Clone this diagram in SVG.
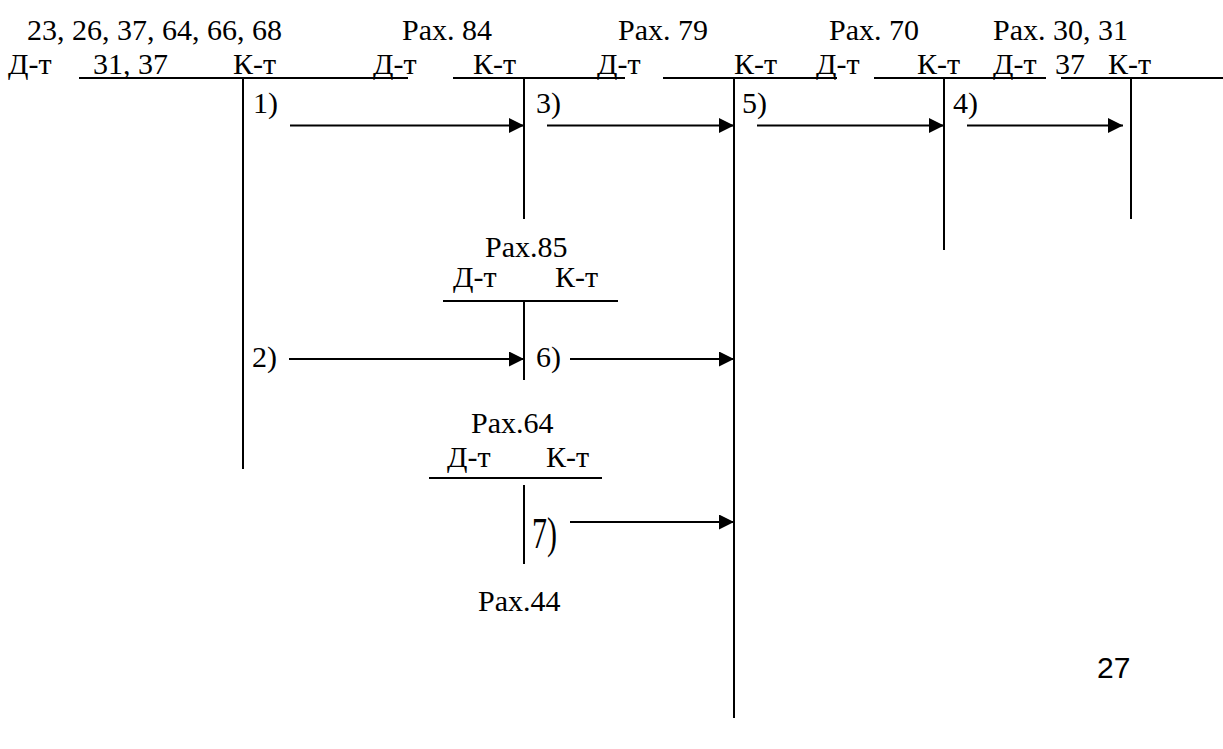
<svg xmlns="http://www.w3.org/2000/svg" width="1223" height="749" viewBox="0 0 1223 749">
<style>
text{font-family:"Liberation Serif","Times New Roman",serif;font-size:30px;fill:#000}
.s{font-family:"Liberation Sans",Arial,sans-serif}
line{stroke:#000;stroke-width:2}
</style>
<defs>
<marker id="ah" markerWidth="15" markerHeight="15" refX="15" refY="7.5" orient="auto" markerUnits="userSpaceOnUse">
<path d="M0,0 L15,7.5 L0,15 Z" fill="#000"/>
</marker>
</defs>
<rect width="1223" height="749" fill="#fff"/>
<g id="acc1">
<text x="27" y="40">23, 26, 37, 64, 66, 68</text>
<text x="8" y="74">Д-т</text>
<text x="93" y="74">31, 37</text>
<text x="233" y="74">К-т</text>
<line x1="79" y1="78" x2="408" y2="78"/>
<line x1="243" y1="78" x2="243" y2="469"/>
</g>
<g id="acc84">
<text x="402" y="40">Рах. 84</text>
<text x="373" y="74">Д-т</text>
<text x="473" y="74">К-т</text>
<line x1="453" y1="78" x2="625" y2="78"/>
<line x1="524" y1="78" x2="524" y2="219"/>
</g>
<g id="acc79">
<text x="618" y="40">Рах. 79</text>
<text x="597" y="74">Д-т</text>
<text x="734" y="74">К-т</text>
<line x1="663" y1="78" x2="837" y2="78"/>
<line x1="734" y1="78" x2="734" y2="718"/>
</g>
<g id="acc70">
<text x="829" y="40">Рах. 70</text>
<text x="816" y="74">Д-т</text>
<text x="917" y="74">К-т</text>
<line x1="874" y1="78" x2="1046" y2="78"/>
<line x1="944" y1="78" x2="944" y2="250"/>
</g>
<g id="acc30">
<text x="993" y="40">Рах. 30, 31</text>
<text x="993" y="74">Д-т</text>
<text x="1055" y="74">37</text>
<text x="1108" y="74">К-т</text>
<line x1="1061" y1="78" x2="1223" y2="78"/>
<line x1="1131" y1="78" x2="1131" y2="219"/>
</g>
<g id="acc85">
<text x="485" y="257">Рах.85</text>
<text x="453" y="287">Д-т</text>
<text x="555" y="287">К-т</text>
<line x1="443" y1="301" x2="618" y2="301"/>
<line x1="524" y1="301" x2="524" y2="380"/>
</g>
<g id="acc64">
<text x="471" y="433">Рах.64</text>
<text x="447" y="467">Д-т</text>
<text x="546" y="467">К-т</text>
<line x1="429" y1="478" x2="602" y2="478"/>
<line x1="524" y1="485" x2="524" y2="564"/>
<text x="478" y="611">Рах.44</text>
</g>
<g id="connectors">
<line x1="290" y1="125.5" x2="524" y2="125.5" marker-end="url(#ah)"/>
<line x1="547" y1="125.5" x2="734" y2="125.5" marker-end="url(#ah)"/>
<line x1="757" y1="125.5" x2="944" y2="125.5" marker-end="url(#ah)"/>
<line x1="967" y1="125.5" x2="1123" y2="125.5" marker-end="url(#ah)"/>
<line x1="289" y1="359" x2="524" y2="359" marker-end="url(#ah)"/>
<line x1="570" y1="359" x2="734" y2="359" marker-end="url(#ah)"/>
<line x1="570" y1="522" x2="734" y2="522" marker-end="url(#ah)"/>
<text x="253" y="113">1)</text>
<text x="536" y="113">3)</text>
<text x="742" y="113">5)</text>
<text x="953" y="113">4)</text>
<text x="252" y="367">2)</text>
<text x="536" y="367">6)</text>
<text transform="translate(532,548) scale(1,1.45)">7)</text>
</g>
<text class="s" x="1097" y="678">27</text>
</svg>
